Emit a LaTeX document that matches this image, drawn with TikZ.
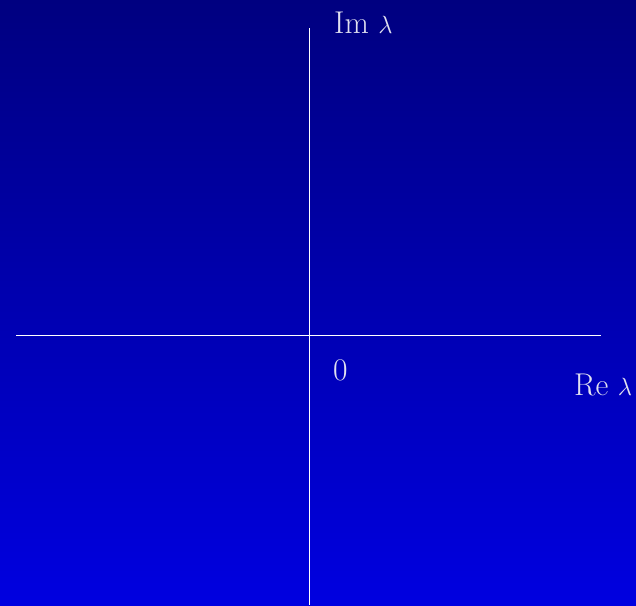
\documentclass[tikz,border=0pt]{standalone}
\usepackage{tikz}
\definecolor{bgtop}{RGB}{0,0,128}
\definecolor{bgbot}{RGB}{0,0,224}
\definecolor{txt}{RGB}{225,225,240}
\tikzset{
  axis/.style={draw=white, line width=0.9pt},
  lbl/.style={text=txt, inner sep=0pt, anchor=base west, font=\fontsize{31.5}{38}\selectfont}
}
\begin{document}
\begin{tikzpicture}[x=1pt,y=1pt]
\shade[top color=bgtop, bottom color=bgbot] (0,0) rectangle (636,605);
\useasboundingbox (0,0) rectangle (636,605);
\coordinate (ytop) at (309,577);
\coordinate (ybot) at (309,0);
\coordinate (xl) at (16,270);
\coordinate (xr) at (601,270);
\draw[axis] (ybot) -- (ytop);
\draw[axis] (xl) -- (xr);
\node[lbl] (im) at (334,571) {Im $\lambda$};
\node[lbl] (re) at (574,209) {Re $\lambda$};
\node[lbl] (zero) at (333,224) {0};
\end{tikzpicture}
\end{document}
